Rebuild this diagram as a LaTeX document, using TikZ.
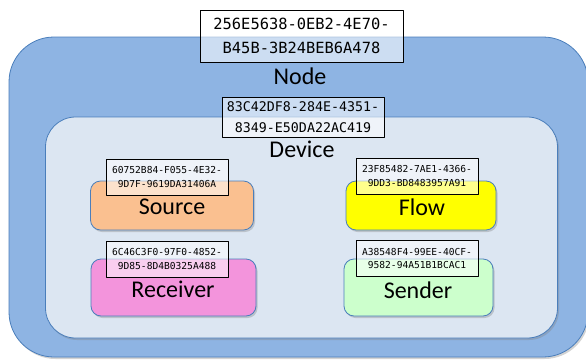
\documentclass[tikz,border=0pt]{standalone}
\usepackage{fontspec}
\setmainfont{Carlito}
\newfontfamily\idfont{DejaVu Sans Mono}
\usetikzlibrary{shadows}
\definecolor{edgeblue}{HTML}{4A7EBB}
\definecolor{nodefill}{HTML}{8EB4E3}
\definecolor{devicefill}{HTML}{DCE6F2}
\definecolor{sourcefill}{HTML}{FAC090}
\definecolor{flowfill}{HTML}{FFFF00}
\definecolor{receiverfill}{HTML}{F394DC}
\definecolor{senderfill}{HTML}{CCFFCC}
\begin{document}
\begin{tikzpicture}[x=1pt,y=-1pt, line join=round,
    partbox/.style={draw=edgeblue, line width=.8pt, inner sep=0pt,
        drop shadow={shadow xshift=1.5pt, shadow yshift=-2pt, opacity=.35}},
    idbox/.style={draw=black, line width=.7pt, fill=white, fill opacity=.55,
        text opacity=1, inner sep=0pt, align=center},
    lbl/.style={font=\fontsize{24}{26}\selectfont}]
    \def\pw{163} \def\ph{49}
    \useasboundingbox (0,0) rectangle (586,359);
    % outer and inner containers
    \node[partbox, fill=nodefill, rounded corners=45pt,
        minimum width=579pt, minimum height=320pt] (node) at (298.5,197) {};
    \node[lbl] (nodelbl) at (300,76) {Node};
    \node[partbox, fill=devicefill, rounded corners=30pt,
        minimum width=512pt, minimum height=221pt] (device) at (301.5,227.5) {};
    \node[lbl] (devicelbl) at (302,149) {Device};
    % the four parts
    \node[partbox, fill=sourcefill, rounded corners=10pt,
        minimum width=\pw pt, minimum height=\ph pt] (source) at (172,205.5) {};
    \node[partbox, fill=flowfill, rounded corners=10pt,
        minimum width=150pt, minimum height=\ph pt] (flow) at (421,205.5) {};
    \node[partbox, fill=receiverfill, rounded corners=10pt,
        minimum width=165pt, minimum height=57pt] (receiver) at (173.5,287.5) {};
    \node[partbox, fill=senderfill, rounded corners=10pt,
        minimum width=149pt, minimum height=57pt] (sender) at (418.5,287.5) {};
    \node[lbl] (sourcelbl) at (172,207) {Source};
    \node[lbl] (flowlbl) at (422,207) {Flow};
    \node[lbl] (receiverlbl) at (173,289) {Receiver};
    \node[lbl] (senderlbl) at (418,290) {Sender};
    % identifiers
    \node[idbox, minimum width=203pt, minimum height=52pt,
        font=\idfont\fontsize{15.4}{24}\selectfont] (nodeid) at (301.5,36)
        {256E5638-0EB2-4E70-\\B45B-3B24BEB6A478};
    \node[idbox, minimum width=162pt, minimum height=40pt,
        font=\idfont\fontsize{13.3}{21}\selectfont] (deviceid) at (303,117)
        {83C42DF8-284E-4351-\\8349-E50DA22AC419};
    \foreach \n/\x/\y/\a/\b in {sourceid/167/177/60752B84-F055-4E32-/9D7F-9619DA31406A,
        flowid/417/176/23F85482-7AE1-4366-/9DD3-BD8483957A91,
        receiverid/167/259/6C46C3F0-97F0-4852-/9D85-8D4B0325A488,
        senderid/417/258.5/A38548F4-99EE-40CF-/9582-94A51B1BCAC1}
        \node[idbox, minimum width=122pt, minimum height=36pt,
            font=\idfont\fontsize{9.6}{13.5}\selectfont] (\n) at (\x,\y) {\a\\\b};
\end{tikzpicture}
\end{document}
